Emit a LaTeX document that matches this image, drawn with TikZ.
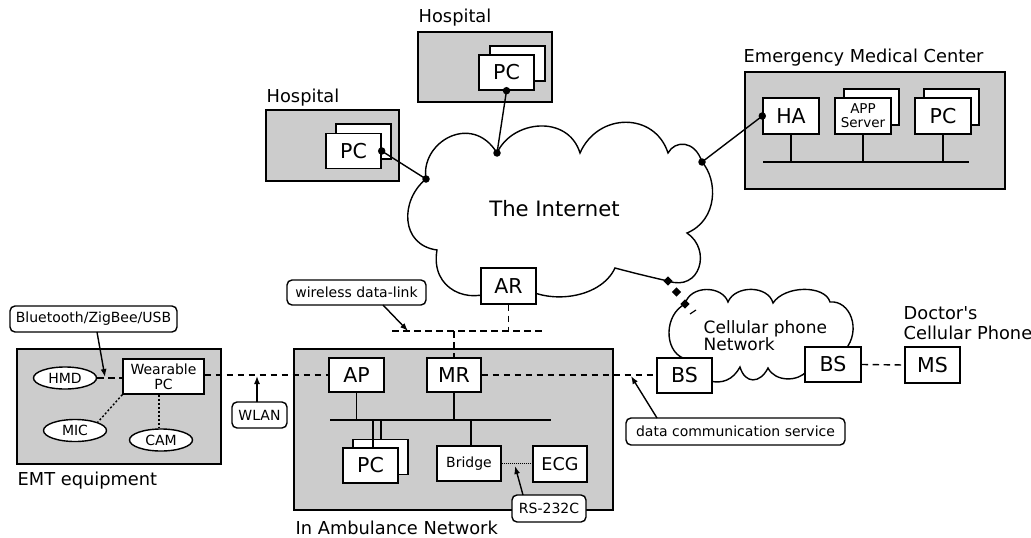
\documentclass[tikz,border=0pt]{standalone}
\usepackage{fontspec}
\setmainfont{DejaVu Sans}
\usetikzlibrary{arrows.meta,shapes.geometric}
\definecolor{grpfill}{RGB}{204,204,204}
\begin{document}
\begin{tikzpicture}[x=1pt,y=-1pt,line width=1.4pt,
  box/.style={draw,fill=white,inner sep=0pt,font=\fontsize{20.5}{24}\selectfont},
  sbox/.style={draw,fill=white,inner sep=0pt,align=center,font=\fontsize{14}{15}\selectfont},
  grp/.style={draw,fill=grpfill,inner sep=0pt},
  lbl/.style={draw,rounded corners=5pt,fill=white,inner sep=0pt,font=\fontsize{14}{16}\selectfont},
  ttl/.style={anchor=base west,inner sep=0pt,font=\fontsize{17.8}{20}\selectfont},
  ell/.style={draw,fill=white,ellipse,inner sep=0pt,minimum width=63,minimum height=22,font=\fontsize{14}{16}\selectfont},
  dsh/.style={dash pattern=on 6.5pt off 4.5pt},
  dtt/.style={dash pattern=on 2pt off 2pt},
  fdot/.style={dash pattern=on 1pt off 1pt},
  arr/.style={-{Latex[length=8pt,width=6pt]}},
  jdot/.style={circle,fill,inner sep=0pt,minimum size=7.5pt},
  dia/.style={fill,inner sep=0pt,minimum size=6.5pt,rotate=45}]
\useasboundingbox (0,0) rectangle (1031,538);

% ---------------- Hospitals ----------------
\node[grp,minimum width=134,minimum height=70] (h1g) at (485,67) {};
\node[ttl] (h1t) at (418,22.6) {Hospital};
\node[box,minimum width=55,minimum height=35] (h1b) at (517.5,63.5) {};
\node[box,minimum width=55,minimum height=35] (h1pc) at (506.5,72.5) {PC};

\node[grp,minimum width=133,minimum height=71] (h2g) at (332.5,145.5) {};
\node[ttl] (h2t) at (266,102.6) {Hospital};
\node[box,minimum width=55,minimum height=35] (h2b) at (363.5,141.5) {};
\node[box,minimum width=55,minimum height=35] (h2pc) at (353.5,151) {PC};

% ---------------- Emergency Medical Center ----------------
\node[grp,minimum width=260,minimum height=117] (emc) at (875,130.5) {};
\node[ttl] (emct) at (743,62) {Emergency Medical Center};
\node[box,minimum width=56,minimum height=36] (ha) at (791,116) {HA};
\node[box,minimum width=55,minimum height=36] (appb) at (871.5,107) {};
\node[box,minimum width=56,minimum height=36,align=center,font=\fontsize{13.5}{14}\selectfont] (app) at (863,116) {APP\\Server};
\node[box,minimum width=55,minimum height=36] (epcb) at (951.5,107) {};
\node[box,minimum width=56,minimum height=36] (epc) at (943,116) {PC};
\coordinate (ebl) at (763,162);
\coordinate (ebr) at (969,162);
\draw (ebl) -- (ebr);
\draw (ha.south) -- (ha.south |- ebl);
\draw (app.south) -- (app.south |- ebl);
\draw (epc.south) -- (epc.south |- ebl);

% ---------------- The Internet ----------------
\coordinate (i1) at (426,179);
\coordinate (i2) at (497,153);
\coordinate (i5) at (702,162);
\coordinate (i8) at (668,281);
\draw[fill=white] (i1) .. controls (420,142) and (472,112) .. (i2)
  .. controls (512,120) and (568,114) .. (580,153)
  .. controls (598,112) and (655,112) .. (668,153)
  .. controls (675,140) and (695,140) .. (i5)
  .. controls (718,180) and (718,220) .. (687,233)
  .. controls (712,250) and (700,292) .. (i8)
  .. controls (650,277) and (630,272) .. (615,268)
  .. controls (600,300) and (545,305) .. (520,285)
  -- (495,290)
  .. controls (470,305) and (430,290) .. (437,250)
  .. controls (400,245) and (400,200) .. cycle;
\node[anchor=base,inner sep=0pt,font=\fontsize{21.2}{24}\selectfont] (inet) at (554.5,216) {The Internet};

\draw (h1pc.south) -- (i2);
\draw (h2pc.east) -- (i1);
\draw (ha.west) -- (i5);
\node[jdot] at (h1pc.south) {};
\node[jdot] at (i2) {};
\node[jdot] at (h2pc.east) {};
\node[jdot] at (i1) {};
\node[jdot] at (ha.west) {};
\node[jdot] at (i5) {};

\node[box,minimum width=55,minimum height=36] (ar) at (508.5,286) {AR};

% ---------------- Cellular phone network ----------------
\coordinate (c1) at (685,304);
\draw[fill=white] (c1) .. controls (690,285) and (722,285) .. (728,302)
  .. controls (735,285) and (768,285) .. (773,303)
  .. controls (785,285) and (825,285) .. (830,302)
  .. controls (850,300) and (862,330) .. (845,350)
  -- (820,360) -- (807,371)
  .. controls (798,382) and (775,382) .. (768,368)
  .. controls (760,384) and (745,384) .. (740,367)
  .. controls (733,380) and (722,384) .. (710,381)
  -- (690,370) -- (683,358)
  .. controls (664,350) and (664,315) .. cycle;
\node[anchor=base west,inner sep=0pt,font=\fontsize{17}{17}\selectfont] (cpn1) at (703,333) {Cellular phone};
\node[anchor=base west,inner sep=0pt,font=\fontsize{17}{17}\selectfont] (cpn2) at (703,350) {Network};

\node[dia] at (i8) {};
\node[dia] at (676.5,292) {};
\node[dia] at (c1) {};
\coordinate (cs1) at (690,314);
\coordinate (cs2) at (696,310);
\draw[line width=1.2pt] (cs1) -- (cs2);

\node[box,minimum width=55,minimum height=35] (bs1) at (684.5,375.5) {BS};
\node[box,minimum width=56,minimum height=35] (bs2) at (833,364.5) {BS};
\node[box,minimum width=55,minimum height=36] (ms) at (932.5,365) {MS};
\draw[dsh] (bs2.east) -- (ms.west);
\node[ttl] (doc1) at (903,319.5) {Doctor\textquotesingle s};
\node[ttl] (doc2) at (903,339) {Cellular Phone};

% ---------------- In Ambulance Network ----------------
\node[grp,minimum width=319,minimum height=161] (amb) at (453.5,429.5) {};
\node[ttl] (ambt) at (295,534.5) {In Ambulance Network};
\node[box,minimum width=55,minimum height=34] (ap) at (356.5,375) {AP};
\node[box,minimum width=54,minimum height=34] (mr) at (454,375) {MR};
\coordinate (abl) at (330,420);
\coordinate (abr) at (551,420);
\draw (abl) -- (abr);
\draw (ap.south) -- (ap.south |- abl);
\draw (mr.south) -- (mr.south |- abl);
\node[box,minimum width=55,minimum height=35] (apcb) at (380.5,457) {};
\node[box,minimum width=55,minimum height=35] (apc) at (370.5,465.5) {PC};
\draw (apcb.north -| 381,0) -- (381,420);
\draw (apc.north -| 373,0) -- (373,420);
\node[sbox,minimum width=64,minimum height=35] (br) at (469,463.5) {Bridge};
\draw (br.north -| 471,0) -- (471,420);
\node[box,minimum width=54,minimum height=36,font=\fontsize{17.6}{20}\selectfont] (ecg) at (560,464) {ECG};
\draw[line width=0.9pt,fdot] (br.east) -- (br.east -| ecg.west);
\node[lbl,minimum width=74,minimum height=27] (rs) at (549,508.5) {RS-232C};
\coordinate (rsa) at (523,495);
\coordinate (rsb) at (515,466);
\draw[arr] (rsa) -- (rsb);

% wireless data-link
\coordinate (wl1) at (392,331);
\coordinate (wl2) at (543,331);
\draw[dsh] (wl1) -- (wl2);
\draw[dsh] (ar.south) -- (ar.south |- wl1);
\draw[dsh] (mr.north |- wl1) -- (mr.north);
\node[lbl,minimum width=139,minimum height=25] (wdl) at (356.5,292.5) {wireless data-link};
\coordinate (wda) at (383,305);
\coordinate (wdb) at (408,331);
\draw[arr] (wda) -- (wdb);

% MR to BS
\draw[dsh] (mr.east) -- (bs1.west |- mr.east);
\node[lbl,minimum width=219,minimum height=27] (dcs) at (735.5,431.5) {data communication service};
\coordinate (dca) at (657,418);
\coordinate (dcb) at (631,376);
\draw[arr] (dca) -- (dcb);

% ---------------- EMT equipment ----------------
\node[grp,minimum width=204,minimum height=115] (emt) at (119,406.5) {};
\node[ttl] (emtt) at (17,485) {EMT equipment};
\node[sbox,minimum width=81,minimum height=35] (wpc) at (163.5,376.5) {Wearable\\PC};
\node[ell] (hmd) at (65,378) {HMD};
\node[ell] (mic) at (75,430.5) {MIC};
\node[ell] (cam) at (161,440) {CAM};
\draw[dsh] (hmd.east) -- (hmd.east -| wpc.west);
\draw[dtt] (wpc.south west) -- (mic.north east);
\draw[dtt] (wpc.south -| 159,0) -- (cam.north -| 159,0);
\node[lbl,minimum width=167,minimum height=26] (bt) at (93.5,319) {Bluetooth/ZigBee/USB};
\coordinate (bta) at (97,332);
\coordinate (btb) at (105,377);
\draw[arr] (bta) -- (btb);

\draw[dsh] (wpc.east |- ap.west) -- (ap.west);
\node[lbl,minimum width=55,minimum height=26] (wlan) at (259.5,415) {WLAN};
\coordinate (wla) at (257,402);
\coordinate (wlb) at (257,376);
\draw[arr] (wla) -- (wlb);
\end{tikzpicture}
\end{document}
